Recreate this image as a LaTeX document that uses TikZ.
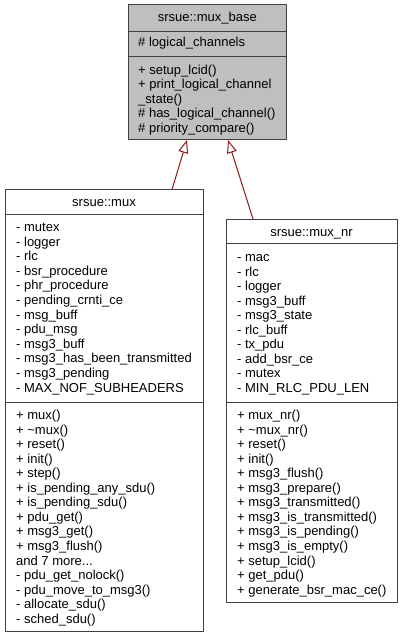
\documentclass[tikz,border=0pt]{standalone}
\usepackage{fontspec}
\setmainfont{Liberation Sans}
\usetikzlibrary{arrows.meta}
\definecolor{edgered}{HTML}{8B1A1A}
\definecolor{boxgray}{HTML}{BFBFBF}
\definecolor{boxline}{HTML}{404040}
\begin{document}
\begin{tikzpicture}[x=1pt,y=-1pt,line join=round,font=\fontsize{13}{14.5}\selectfont,
	box/.style={draw=boxline,line width=1pt},
	member/.style={anchor=base west,inner sep=0pt},
	classname/.style={anchor=base,inner sep=0pt},
	inherit/.style={draw=edgered,line width=1pt,-{Triangle[length=13pt,width=10pt,fill=white]}}]
	\useasboundingbox (0,0) rectangle (403,639);
	\path
	(187,140) coordinate (base-l)
	(228,140) coordinate (base-r)
	(172,189.5) coordinate (mux-top)
	(253,219) coordinate (muxnr-top);
	\draw[box,fill=boxgray] (128,5) rectangle (286.5,140) (128,31.5)--(286.5,31.5) (128,57)--(286.5,57);
	\draw[box,fill=white] (5,189.5) rectangle (203,631) (5,214.5)--(203,214.5) (5,402)--(203,402);
	\draw[box,fill=white] (226,219) rectangle (397,602) (226,243.5)--(397,243.5) (226,402)--(397,402);
	\draw[inherit] (mux-top)--(base-l);
	\draw[inherit] (muxnr-top)--(base-r);
	% srsue::mux_base
	\node[classname] (base-name) at (207.25,22) {srsue::mux\_base};
	\node[member] (base-a0) at (138,47) {\# logical\_channels};
	\foreach \txt [count=\i from 0] in {+ setup\_lcid(),+ print\_logical\_channel,\_state(),\# has\_logical\_channel(),\# priority\_compare()}
	\node[member] (base-m\i) at (138,74.5+14.5*\i) {\txt};
	% srsue::mux
	\node[classname] (mux-name) at (104,206.5) {srsue::mux};
	\foreach \txt [count=\i from 0] in {- mutex,- logger,- rlc,- bsr\_procedure,- phr\_procedure,- pending\_crnti\_ce,- msg\_buff,- pdu\_msg,- msg3\_buff,- msg3\_has\_been\_transmitted,- msg3\_pending,- MAX\_NOF\_SUBHEADERS}
	\node[member] (mux-a\i) at (16,231.5+14.6*\i) {\txt};
	\foreach \txt [count=\i from 0] in {+ mux(),+ \textasciitilde mux(),+ reset(),+ init(),+ step(),+ is\_pending\_any\_sdu(),+ is\_pending\_sdu(),+ pdu\_get(),+ msg3\_get(),+ msg3\_flush(),and 7 more.\relax.\relax.,- pdu\_get\_nolock(),- pdu\_move\_to\_msg3(),- allocate\_sdu(),- sched\_sdu()}
	\node[member] (mux-m\i) at (16,419.5+14.55*\i) {\txt};
	% srsue::mux_nr
	\node[classname] (muxnr-name) at (311.5,236.5) {srsue::mux\_nr};
	\foreach \txt [count=\i from 0] in {- mac,- rlc,- logger,- msg3\_buff,- msg3\_state,- rlc\_buff,- tx\_pdu,- add\_bsr\_ce,- mutex,- MIN\_RLC\_PDU\_LEN}
	\node[member] (muxnr-a\i) at (237,261.5+14.55*\i) {\txt};
	\foreach \txt [count=\i from 0] in {+ mux\_nr(),+ \textasciitilde mux\_nr(),+ reset(),+ init(),+ msg3\_flush(),+ msg3\_prepare(),+ msg3\_transmitted(),+ msg3\_is\_transmitted(),+ msg3\_is\_pending(),+ msg3\_is\_empty(),+ setup\_lcid(),+ get\_pdu(),+ generate\_bsr\_mac\_ce()}
	\node[member] (muxnr-m\i) at (237,419.5+14.55*\i) {\txt};
\end{tikzpicture}
\end{document}
